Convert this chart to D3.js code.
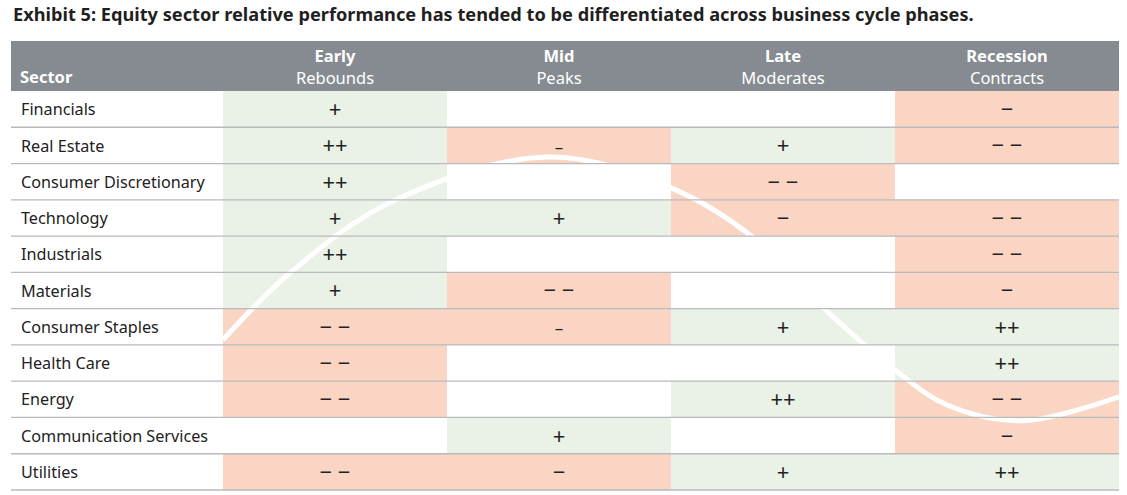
<!DOCTYPE html>
<html>
<head>
<meta charset="utf-8">
<script src="https://cdn.jsdelivr.net/npm/d3@7"></script>
<style>
  body { margin: 0; background: #fff; }
  text { font-family: "Noto Sans", "Open Sans", sans-serif; }
</style>
</head>
<body>
<svg id="chart" width="1127" height="495"></svg>
<script>
var title = "Exhibit 5: Equity sector relative performance has tended to be differentiated across business cycle phases.";
var sectors = ["Financials", "Real Estate", "Consumer Discretionary", "Technology", "Industrials",
  "Materials", "Consumer Staples", "Health Care", "Energy", "Communication Services", "Utilities"];
var phases = ["Early", "Mid", "Late", "Recession"];
var phaseNotes = ["Rebounds", "Peaks", "Moderates", "Contracts"];
var early     = ["+", "++", "++", "+", "++", "+", "− −", "− −", "− −", "", "− −"];
var mid       = ["", "–", "", "+", "", "− −", "–", "", "", "+", "−"];
var late      = ["", "+", "− −", "−", "", "", "+", "", "++", "", "+"];
var recession = ["−", "− −", "", "− −", "− −", "−", "++", "++", "− −", "−", "++"];

// business cycle wave, in phase units (x) and row units (y)
var waveX = [0, 0.3, 0.75, 1.45, 2.0, 2.37, 2.69, 3.0, 3.23, 3.57, 4.0];
var waveY = [6.86, 5.01, 3.06, 1.82, 2.67, 4.05, 6.03, 7.69, 8.65, 9.09, 8.43];

var columns = [early, mid, late, recession];

var svg = d3.select("#chart");

var left = 11, right = 1119, headTop = 41, headBottom = 91, bottom = 490, firstCol = 223;

var x = d3.scaleBand().domain(phases).range([firstCol, right]);
var y = d3.scaleBand().domain(sectors).range([headBottom, bottom]);
var xu = d3.scaleLinear().domain([0, 4]).range([firstCol, right]);
var yu = d3.scaleLinear().domain([0, sectors.length]).range([headBottom, bottom]);

function fill(v) {
  if (v.indexOf("+") >= 0) return "#eaf1e6";
  if (v.indexOf("−") >= 0 || v.indexOf("–") >= 0) return "#fad5c3";
  return "#fff";
}

svg.append("text")
  .attr("x", 13).attr("y", 21)
  .attr("font-size", 18.2).attr("font-weight", "bold").attr("fill", "#1f1f1f")
  .text(title);

// header band
svg.append("rect")
  .attr("x", left).attr("y", headTop)
  .attr("width", right - left).attr("height", headBottom - headTop)
  .attr("fill", "#868b91");

svg.append("text")
  .attr("x", 20).attr("y", 83)
  .attr("font-size", 16.5).attr("font-weight", "bold").attr("fill", "#fff")
  .text("Sector");

var head = svg.selectAll(".head").data(phases).enter().append("g")
  .attr("transform", function(d) { return "translate(" + (x(d) + x.bandwidth() / 2) + ",0)"; });
head.append("text")
  .attr("y", 62).attr("text-anchor", "middle")
  .attr("font-size", 16.5).attr("font-weight", "bold").attr("fill", "#fff")
  .text(function(d) { return d; });
head.append("text")
  .attr("y", 83.5).attr("text-anchor", "middle")
  .attr("font-size", 16.5).attr("fill", "#fff")
  .text(function(d, i) { return phaseNotes[i]; });

// cells
var cells = [];
columns.forEach(function(col, j) {
  col.forEach(function(v, i) {
    cells.push({ phase: phases[j], sector: sectors[i], value: v });
  });
});

svg.append("g").selectAll("rect").data(cells).enter().append("rect")
  .attr("x", function(d) { return x(d.phase); })
  .attr("y", function(d) { return y(d.sector); })
  .attr("width", x.bandwidth())
  .attr("height", y.bandwidth())
  .attr("fill", function(d) { return fill(d.value); });

// the wave
svg.append("clipPath").attr("id", "grid")
  .append("rect")
  .attr("x", firstCol).attr("y", headBottom)
  .attr("width", right - firstCol).attr("height", bottom - headBottom);

var wave = d3.line()
  .x(function(d, i) { return xu(waveX[i]); })
  .y(function(d, i) { return yu(waveY[i]); })
  .curve(d3.curveCatmullRom);

svg.append("path")
  .attr("clip-path", "url(#grid)")
  .attr("d", wave(waveX))
  .attr("fill", "none")
  .attr("stroke", "#fff")
  .attr("stroke-width", 5);

// row rules
svg.append("g").selectAll("line").data(sectors).enter().append("line")
  .attr("x1", left).attr("x2", right)
  .attr("y1", function(d) { return y(d) + y.bandwidth(); })
  .attr("y2", function(d) { return y(d) + y.bandwidth(); })
  .attr("stroke", "#b9babd").attr("stroke-width", 1.3);

// labels
svg.append("g").selectAll("text").data(sectors).enter().append("text")
  .attr("x", 21)
  .attr("y", function(d) { return y(d) + y.bandwidth() / 2; })
  .attr("dy", "0.38em")
  .attr("font-size", 16.2).attr("fill", "#222")
  .text(function(d) { return d; });

svg.append("g").selectAll("text").data(cells).enter().append("text")
  .attr("x", function(d) { return x(d.phase) + x.bandwidth() / 2; })
  .attr("y", function(d) { return y(d.sector) + y.bandwidth() / 2; })
  .attr("dy", function(d) { return d.value === "–" ? "0.42em" : "0.36em"; })
  .attr("text-anchor", "middle")
  .attr("font-size", function(d) { return d.value === "–" ? 17 : 22; })
  .attr("fill", "#222")
  .text(function(d) { return d.value; });
</script>
</body>
</html>
